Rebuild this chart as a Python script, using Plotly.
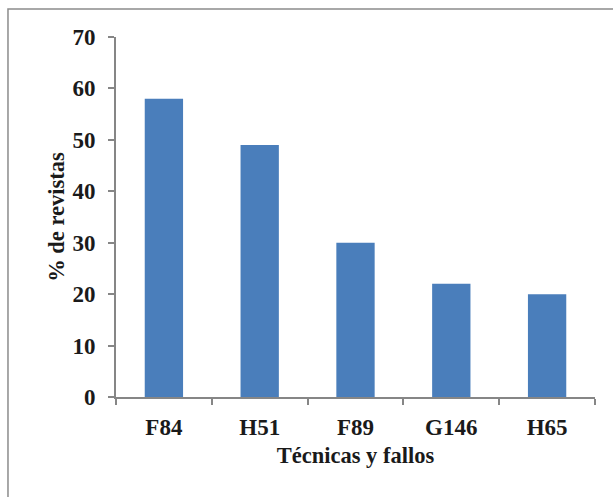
import plotly.graph_objects as go

categories = ["F84", "H51", "F89", "G146", "H65"]
percent_journals = [58, 49, 30, 22, 20]
y_ticks = [0, 10, 20, 30, 40, 50, 60, 70]

font_family = "Liberation Serif"
axis_color = "#868686"
text_color = "#1a1a1a"

fig = go.Figure(
    go.Bar(
        x=categories,
        y=percent_journals,
        marker=dict(color="#4A7EBB", line=dict(width=0)),
        width=0.4,
    )
)

fig.update_layout(
    width=613,
    height=497,
    margin=dict(l=116, r=18, t=37, b=100),
    paper_bgcolor="white",
    plot_bgcolor="white",
    showlegend=False,
    font=dict(family=font_family, color=text_color, size=23),
    shapes=[
        dict(
            type="rect",
            xref="paper",
            yref="paper",
            x0=-0.2255,
            x1=1.2,
            y0=-0.5,
            y1=1.0778,
            line=dict(color="#8c8c8c", width=1.5),
            fillcolor="rgba(0,0,0,0)",
            layer="below",
        )
    ],
)

fig.update_xaxes(
    showline=True,
    linecolor=axis_color,
    linewidth=2,
    ticks="outside",
    tickson="boundaries",
    ticklen=6,
    tickwidth=2,
    tickcolor=axis_color,
    tickfont=dict(family=font_family, size=23, color=text_color, weight="bold"),
    ticklabelstandoff=8,
    title=dict(
        text="<b>Técnicas y fallos</b>",
        font=dict(family=font_family, size=22.5, color=text_color),
        standoff=9,
    ),
    showgrid=False,
)

fig.update_yaxes(
    range=[0, 70],
    tickvals=y_ticks,
    showline=True,
    linecolor=axis_color,
    linewidth=2,
    ticks="outside",
    ticklen=6,
    tickwidth=2,
    tickcolor=axis_color,
    tickfont=dict(family=font_family, size=23, color=text_color, weight="bold"),
    ticklabelstandoff=8,
    title=dict(
        text="<b>% de revistas</b>",
        font=dict(family=font_family, size=22.5, color=text_color),
        standoff=2,
    ),
    showgrid=False,
    zeroline=False,
)

fig.write_html("out.html")
